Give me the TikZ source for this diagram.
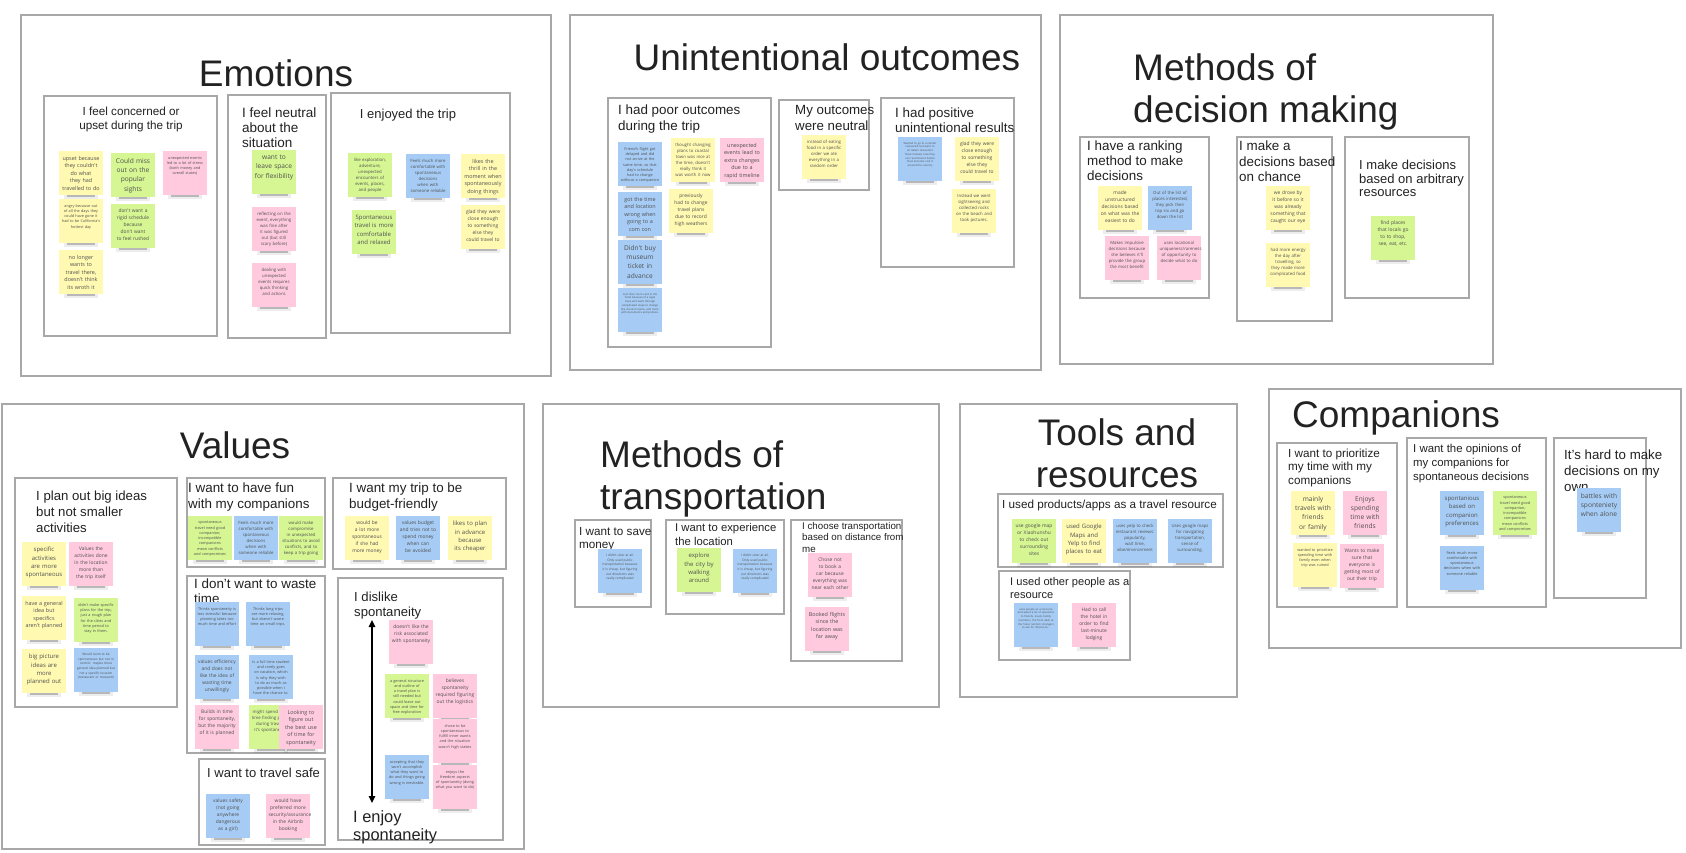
\documentclass[tikz,border=0pt]{standalone}
\usepackage{fontspec}
\setmainfont{Liberation Sans}
\newfontfamily\notefont{Open Sans}
\usetikzlibrary{arrows.meta}
\definecolor{ny}{HTML}{FFF9B1}
\definecolor{ng}{HTML}{D5F692}
\definecolor{np}{HTML}{FFC9DE}
\definecolor{nb}{HTML}{A6CCF5}
\definecolor{framec}{HTML}{A8A8A8}
\definecolor{notetext}{HTML}{505050}
\definecolor{headc}{HTML}{222222}
\tikzset{
  box/.style={draw=framec, line width=1.1pt, fill=white},
  ttl/.style={inner sep=0pt, font=\fontsize{37}{42}\selectfont, text=headc, align=left},
  sub/.style={inner sep=0pt, text=headc, align=left, anchor=north west},
  sticky/.style={minimum width=44pt, minimum height=44pt, inner sep=0pt},
  notetxt/.style={inner sep=0pt, text width=39pt, align=center, text=notetext, anchor=north},
  fsA/.style={font=\notefont\fontsize{2.7}{3.7}\selectfont},
  fsZ/.style={font=\notefont\fontsize{3.2}{4.6}\selectfont},
  fsB/.style={font=\notefont\fontsize{3.8}{5.3}\selectfont},
  fsC/.style={font=\notefont\fontsize{4.3}{6}\selectfont},
  fsD/.style={font=\notefont\fontsize{4.9}{6.8}\selectfont},
  fsE/.style={font=\notefont\fontsize{5.4}{7.5}\selectfont},
  fsF/.style={font=\notefont\fontsize{6}{8.3}\selectfont},
  fsG/.style={font=\notefont\fontsize{6.6}{9.3}\selectfont},
  biarrow/.style={line width=1.4pt, {Triangle[length=7pt,width=6.5pt]}-{Triangle[length=7pt,width=6.5pt]}},
}
\newcommand{\stk}[6]{%
  \fill[black, opacity=0.07] ({#2+5},{#3+42}) rectangle ({#2+39},{#3+48});
  \fill[black, opacity=0.22] ({#2+8},{#3+43}) rectangle ({#2+36},{#3+46.3});
  \node[sticky, fill=#4] (#1) at ({#2+22},{#3+22}) {};
  \node[notetxt, #5] (#1t) at ({#2+22},{#3+5}) {#6};
}
\begin{document}
\hyphenpenalty=10000
\exhyphenpenalty=10000
\begin{tikzpicture}[x=1pt, y=-1pt]
\fill[white] (0,0) rectangle (1686,853);
\useasboundingbox (0,0) rectangle (1686,853);

% outer frames
\draw[box] (21,15) rectangle (551,376);
\draw[box] (570,15) rectangle (1041,370);
\draw[box] (1060,15) rectangle (1493,364);
\draw[box] (2,404) rectangle (524,849);
\draw[box] (543,404) rectangle (939,707);
\draw[box] (960,404) rectangle (1237,697);
\draw[box] (1269,389) rectangle (1681,648);

% main titles
\node[ttl, anchor=north] (temo) at (276,59) {Emotions};
\node[ttl, anchor=north] (tuo) at (827,43) {Unintentional outcomes};
\node[ttl, anchor=north west] (tdm) at (1133,53) {Methods of\\decision making};
\node[ttl, anchor=north] (tval) at (235,431) {Values};
\node[ttl, anchor=north west] (ttr) at (600,440) {Methods of\\transportation};
\node[ttl, anchor=north, align=center] (ttool) at (1117,418) {Tools and\\resources};
\node[ttl, anchor=north] (tcomp) at (1396,400) {Companions};

% inner frames
\draw[box] (44,96) rectangle (217,336);
\draw[box] (228,95) rectangle (326,338);
\draw[box] (331,93) rectangle (510,333);
\draw[box] (608,98) rectangle (771,347);
\draw[box] (779,100) rectangle (869,190);
\draw[box] (881,98) rectangle (1014,267);
\draw[box] (1080,137) rectangle (1209,298);
\draw[box] (1237,137) rectangle (1332,321);
\draw[box] (1345,137) rectangle (1469,298);
\draw[box] (15,478) rectangle (177,707);
\draw[box] (187,478) rectangle (325,567);
\draw[box] (333,478) rectangle (506,569);
\draw[box] (187,576) rectangle (325,753);
\draw[box] (338,578) rectangle (503,840);
\draw[box] (199,759) rectangle (325,845);
\draw[box] (575,520) rectangle (651,607);
\draw[box] (666,520) rectangle (784,614);
\draw[box] (791,520) rectangle (902,661);
\draw[box] (998,494) rectangle (1223,567);
\draw[box] (999,571) rectangle (1130,660);
\draw[box] (1277,443) rectangle (1397,607);
\draw[box] (1407,438) rectangle (1546,607);
\draw[box] (1554,438) rectangle (1646,598);

% sub titles
\node[sub, anchor=north, align=center, font=\fontsize{11.7}{14}\selectfont] (s1) at (131,107) {I feel concerned or\\upset during the trip};
\node[sub, font=\fontsize{13.5}{15}\selectfont] (s2) at (242,108) {I feel neutral\\about the\\situation};
\node[sub, anchor=north, font=\fontsize{13}{15}\selectfont] (s3) at (408,109) {I enjoyed the trip};
\node[sub, font=\fontsize{13.4}{16}\selectfont] (s4) at (618,105) {I had poor outcomes\\during the trip};
\node[sub, font=\fontsize{13.3}{16}\selectfont] (s5) at (795,105) {My outcomes\\were neutral};
\node[sub, font=\fontsize{13.4}{15}\selectfont] (s6) at (895,108) {I had positive\\unintentional results};
\node[sub, font=\fontsize{13.4}{15}\selectfont] (s7) at (1087,141) {I have a ranking\\method to make\\decisions};
\node[sub, font=\fontsize{13.4}{15.5}\selectfont] (s8) at (1239,141) {I make a\\decisions based\\on chance};
\node[sub, font=\fontsize{13}{13.5}\selectfont] (s9) at (1359,160) {I make decisions\\based on arbitrary\\resources};
\node[sub, font=\fontsize{13.2}{16}\selectfont] (s10) at (36,491) {I plan out big ideas\\but not smaller\\activities};
\node[sub, font=\fontsize{13.4}{16}\selectfont] (s11) at (188,483) {I want to have fun\\with my companions};
\node[sub, font=\fontsize{13.4}{16}\selectfont] (s12) at (349,483) {I want my trip to be\\budget-friendly};
\node[sub, font=\fontsize{13.4}{14.5}\selectfont] (s13) at (194,579) {I don't want to waste\\time};
\node[sub, font=\fontsize{13.1}{15}\selectfont] (s14) at (354,592) {I dislike\\spontaneity};
\node[sub, font=\fontsize{16.4}{18}\selectfont] (s15) at (353,810) {I enjoy\\spontaneity};
\node[sub, font=\fontsize{13}{15}\selectfont] (s16) at (207,768) {I want to travel safe};
\node[sub, font=\fontsize{11.7}{13.5}\selectfont] (s17) at (579,527) {I want to save\\money};
\node[sub, font=\fontsize{11.3}{14}\selectfont] (s18) at (675,523) {I want to experience\\the location};
\node[sub, font=\fontsize{9.75}{11.5}\selectfont] (s19) at (802,522) {I choose transportation\\based on distance from\\me};
\node[sub, font=\fontsize{11.7}{14}\selectfont] (s20) at (1002,500) {I used products/apps as a travel resource};
\node[sub, font=\fontsize{11.1}{13.5}\selectfont] (s21) at (1010,577) {I used other people as a\\resource};
\node[sub, font=\fontsize{11.7}{13.3}\selectfont] (s22) at (1288,449) {I want to prioritize\\my time with my\\companions};
\node[sub, font=\fontsize{11.4}{14}\selectfont] (s23) at (1413,444) {I want the opinions of\\my companions for\\spontaneous decisions};
\node[sub, font=\fontsize{13.3}{16}\selectfont] (s24) at (1564,450) {It's hard to make\\decisions on my\\own};

% Emotions notes
\stk{e1}{59}{151}{ny}{fsE}{upset because they couldn't do what they had travelled to do}
\stk{e2}{111}{153}{ng}{fsG}{Could miss out on the popular sights}
\stk{e3}{163}{151}{np}{fsB}{unexpected events led to a lot of stress (both money and overall states)}
\stk{e4}{59}{199}{ny}{fsB}{angry because out of all the days they could have gone it had to be California's hottest day}
\stk{e5}{111}{204}{ng}{fsD}{don't want a rigid schedule because don't want to feel rushed}
\stk{e6}{59}{250}{ny}{fsE}{no longer wants to travel there, doesn't think its wroth it}
\stk{e7}{252}{150}{ng}{fsG}{want to leave space for flexibility}
\stk{e8}{252}{207}{np}{fsC}{reflecting on the event, everything was fine after it was figured out (but still scary before)}
\stk{e9}{252}{263}{np}{fsC}{dealing with unexpected events requires quick thinking and actions}
\stk{e10}{348}{153}{ng}{fsC}{like exploration, adventure, unexpected encounters of events, places, and people}
\stk{e11}{406}{154}{nb}{fsC}{Feels much more comfortable with spontaneous decisions when with someone reliable}
\stk{e12}{461}{154}{ny}{fsE}{likes the thrill in the moment when spontaneously doing things}
\stk{e13}{352}{210}{ng}{fsF}{Spontaneous travel is more comfortable and relaxed}
\stk{e14}{461}{205}{ny}{fsD}{glad they were close enough to something else they could travel to}

% Unintentional outcomes notes
\stk{u1}{618}{142}{nb}{fsB}{Friend's flight got delayed and did not arrive at the same time, so that day's schedule had to change without a companion}
\stk{u2}{618}{192}{nb}{fsE}{got the time and location wrong when going to a com con}
\stk{u3}{618}{240}{nb}{fsG}{Didn't buy museum ticket in advance}
\stk{u4}{618}{288}{nb}{fsA}{Lost their room card in the hotel because of a legal issue and went through complicated steps to change the check-in name, and more with documents and policies.}
\stk{u5}{671}{138}{ny}{fsC}{thought changing plans to coastal town was nice at the time, doesn't really think it was worth it now}
\stk{u6}{669}{189}{ny}{fsD}{previously had to change travel plans due to record high weathers}
\stk{u7}{720}{138}{np}{fsE}{unexpected events lead to extra changes due to a rapid timeline}
\stk{u8}{802}{135}{ny}{fsC}{instead of eating food in a specific order we ate everything in a random order}
\stk{u9}{898}{137}{nb}{fsA}{Wanted to go to a certain restaurant but went to an Italian restaurant there instead, now they can recommend Italian food and also visit it around the country}
\stk{u10}{955}{137}{ny}{fsD}{glad they were close enough to something else they could travel to}
\stk{u11}{952}{189}{ny}{fsC}{Instead we went sightseeing and collected rocks on the beach and took pictures.}

% Decision making notes
\stk{d1}{1098}{186}{ny}{fsD}{made unstructured decisions based on what was the easiest to do}
\stk{d2}{1148}{186}{nb}{fsC}{Out of the list of places interested, they pick their top six and go down the list}
\stk{d3}{1105}{236}{np}{fsC}{Makes impulsive decisions because she believes it'll provide the group the most benefit}
\stk{d4}{1157}{236}{np}{fsC}{uses locational uniqueness/rareness of opportunity to decide what to do}
\stk{d5}{1266}{186}{ny}{fsD}{we drove by it before so it was already something that caught our eye}
\stk{d6}{1266}{243}{ny}{fsC}{had more energy the day after travelling, so they made more complicated food}
\stk{d7}{1371}{216}{ng}{fsD}{find places that locals go to to shop, see, eat, etc.}

% Values notes
\stk{v1}{22}{542}{ny}{fsF}{specific activities are more spontaneous}
\stk{v2}{69}{542}{np}{fsD}{Values the activities done in the location more than the trip itself}
\stk{v3}{22}{596}{ny}{fsE}{have a general idea but specifics aren't planned}
\stk{v4}{74}{598}{ng}{fsB}{didn't make specific plans for the trip, just a rough plan for the cities and time period to stay in them.}
\stk{v5}{22}{649}{ny}{fsF}{big picture ideas are more planned out}
\stk{v6}{74}{648}{nb}{fsZ}{Would claim to be spontaneous but not in control. maybe more general idea planned but not a specific location (restaurant or museum)}
\stk{v7}{188}{516}{ng}{fsB}{spontaneous travel need good companion; incompatible companions mean conflicts and compromises}
\stk{v8}{234}{516}{nb}{fsC}{Feels much more comfortable with spontaneous decisions when with someone reliable}
\stk{v9}{279}{516}{ng}{fsC}{would make compromise in unexpected situations to avoid conflicts, and to keep a trip going}
\stk{v10}{345}{516}{ny}{fsD}{would be a lot more spontaneous if she had more money}
\stk{v11}{396}{516}{nb}{fsD}{values budget and tries not to spend money when can be avoided}
\stk{v12}{448}{516}{ny}{fsF}{likes to plan in advance because its cheaper}
\stk{v13}{195}{602}{nb}{fsB}{Thinks spontaneity is less stressful because planning takes too much time and effort}
\stk{v14}{246}{602}{nb}{fsB}{Thinks long trips are more relaxing, but doesn't waste time on small trips.}
\stk{v15}{195}{655}{nb}{fsD}{values efficiency and does not like the idea of wasting time unwillingly}
\stk{v16}{249}{655}{nb}{fsB}{Is a full time student and rarely goes on vacation, which is why they wish to do as much as possible when I have the chance to.}
\stk{v17}{195}{705}{np}{fsD}{Builds in time for spontaneity, but the majority of it is planned}
\stk{v18}{249}{705}{ng}{fsC}{might spend extra time finding places during travel if it's spontaneous}
\stk{v19}{279}{705}{np}{fsE}{Looking to figure out the best use of time for spontaneity}
\stk{v20}{389}{620}{np}{fsD}{doesn't like the risk associated with spontaneity}
\stk{v21}{385}{674}{ng}{fsB}{a general structure and outline of a travel plan is still needed but could leave out space and time for free exploration}
\stk{v22}{433}{674}{np}{fsD}{believes spontaneity required figuring out the logistics}
\stk{v23}{433}{719}{np}{fsB}{chose to be spontaneous to fulfill inner wants and the situation wasn't high stakes}
\stk{v24}{385}{755}{nb}{fsB}{accepting that they won't accomplish what they want to do and things going wrong is inevitable.}
\stk{v25}{433}{765}{np}{fsB}{enjoys the freedom aspects of spontaneity (doing what you want to do)}
\stk{v26}{206}{794}{nb}{fsD}{values safety (not going anywhere dangerous as a girl)}
\stk{v27}{266}{794}{np}{fsD}{would have preferred more security/assurance in the Airbnb booking}

% spontaneity arrow
\coordinate (atop) at (372,620);
\coordinate (abot) at (372,803);
\draw[biarrow] (atop) -- (abot);

% Transportation notes
\stk{t1}{598}{549}{nb}{fsZ}{I didn't uber at all. Only used public transportation because it is cheap, but figuring out directions was really complicated}
\stk{t2}{677}{548}{ng}{fsF}{explore the city by walking around}
\stk{t3}{733}{549}{nb}{fsZ}{I didn't uber at all. Only used public transportation because it is cheap, but figuring out directions was really complicated}
\stk{t4}{808}{553}{np}{fsD}{Chose not to book a car because everything was near each other}
\stk{t5}{805}{607}{np}{fsE}{Booked flights since the location was far away}

% Tools notes
\stk{r1}{1012}{519}{ng}{fsD}{use google map or Xiaohunshu to check out surrounding sites}
\stk{r2}{1062}{519}{ny}{fsF}{used Google Maps and Yelp to find places to eat}
\stk{r3}{1113}{519}{nb}{fsC}{uses yelp to check restaurant reviews: popularity, wait time, vibe/environment}
\stk{r4}{1168}{519}{nb}{fsC}{Uses google maps for navigating transportation, sense of surrounding.}
\stk{r5}{1014}{603}{nb}{fsA}{uses people as a resource and asked a lot of questions to friends, locals, family members, the front desk at the hotel, random strangers to ask for directions...}
\stk{r6}{1072}{603}{np}{fsD}{Had to call the hotel in order to find last-minute lodging}

% Companions notes
\stk{c1}{1291}{491}{ny}{fsG}{mainly travels with friends or family}
\stk{c2}{1343}{491}{np}{fsG}{Enjoys spending time with friends}
\stk{c3}{1293}{543}{ny}{fsB}{wanted to prioritize spending time with family even when trip was ruined}
\stk{c4}{1340}{544}{np}{fsD}{Wants to make sure that everyone is getting most of out their trip}
\stk{c5}{1440}{491}{nb}{fsF}{spontanious based on companion preferences}
\stk{c6}{1493}{491}{ng}{fsB}{spontaneous travel need good companion; incompatible companions mean conflicts and compromises}
\stk{c7}{1440}{546}{nb}{fsB}{Feels much more comfortable with spontaneous decisions when with someone reliable}
\stk{c8}{1577}{488}{nb}{fsG}{battles with sponteniety when alone}
\end{tikzpicture}
\end{document}
